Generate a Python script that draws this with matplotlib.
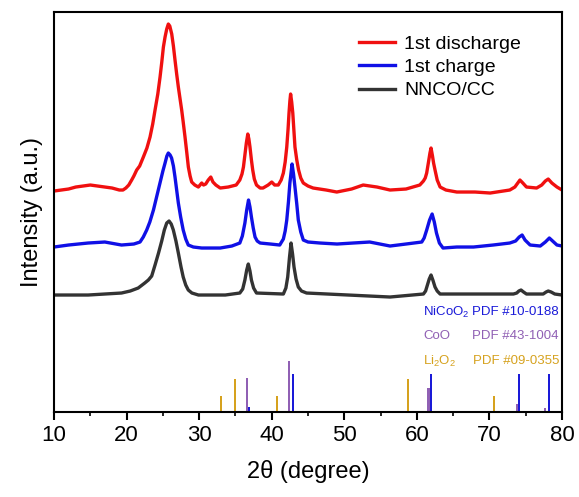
import matplotlib
matplotlib.use("Agg")
import matplotlib.pyplot as plt
from matplotlib.ticker import MultipleLocator

plt.rcParams['font.family'] = ['Liberation Sans', 'DejaVu Sans']
plt.rcParams['mathtext.fontset'] = 'custom'
plt.rcParams['mathtext.rm'] = 'Liberation Sans'
plt.rcParams['mathtext.default'] = 'regular'

# XRD patterns (stacked, arbitrary units)
x_dis = [10.0, 11.0, 12.0, 13.0, 14.0, 15.0, 16.0, 17.0, 18.0, 19.0, 19.5, 19.9, 20.3, 20.7, 21.0,
         21.39, 21.8, 22.31, 22.8, 23.23, 23.6, 23.92, 24.3, 24.61, 24.85, 25.07, 25.3, 25.53,
         25.75, 25.95, 26.22, 26.45, 26.67, 26.9, 27.13, 27.35, 27.59, 27.8, 28.05, 28.3, 28.51,
         28.75, 28.97, 29.4, 29.89, 30.35, 30.6, 30.9, 31.25, 31.6, 31.9, 32.3, 32.9, 34.0, 35.1,
         35.6, 35.9, 36.1, 36.3, 36.5, 36.7, 36.85, 37.0, 37.2, 37.38, 37.6, 37.9, 38.4, 38.8,
         39.5, 40.0, 40.4, 40.9, 41.3, 41.6, 41.85, 42.07, 42.25, 42.38, 42.5, 42.6, 42.75, 42.9,
         43.05, 43.2, 43.45, 43.7, 44.0, 44.35, 45.0, 45.7, 47.5, 48.96, 51.0, 52.6, 54.5, 56.3,
         58.5, 60.4, 60.9, 61.15, 61.35, 61.6, 61.8, 61.95, 62.15, 62.3, 62.5, 62.8, 63.2, 64.0,
         65.5, 68.0, 70.1, 72.8, 73.5, 73.9, 74.2, 74.6, 75.1, 76.5, 77.2, 77.7, 78.1, 78.6,
         79.3, 80.0]
y_dis = [221, 222, 223, 225, 226, 227, 226, 225, 224, 222, 222, 224, 227, 232, 236,
         242, 246, 255, 264, 275, 288, 302, 318, 335, 350, 365, 375, 383,
         388, 386, 378, 366, 352, 338, 325, 314, 302, 290, 275, 259, 245,
         236, 230, 227, 225, 229, 227, 228, 232, 235, 230, 227, 224, 225, 227,
         232, 238, 245, 257, 269, 278, 273, 265, 252, 242, 233, 227, 224, 224,
         227, 230, 227, 227, 232, 239, 250, 265, 283, 299, 311, 318, 310, 299,
         282, 265, 252, 242, 234, 229, 226, 224, 222, 220, 223, 227, 225, 222,
         223, 227, 231, 234, 239, 250, 259, 264, 256, 249, 242, 232, 225, 222,
         220, 220, 219, 222, 225, 229, 232, 229, 225, 224, 227, 231, 233, 229,
         225, 222]

x_chg = [10.0, 12.0, 14.7, 17.0, 19.3, 21.0, 21.85, 22.3, 22.77, 23.2, 23.7, 24.1, 24.6, 25.0, 25.3,
         25.55, 25.75, 26.0, 26.2, 26.45, 26.67, 26.9, 27.13, 27.45, 27.8, 28.15, 28.5, 29.2,
         30.35, 32.9, 34.5, 35.6, 35.95, 36.3, 36.55, 36.8, 37.0, 37.2, 37.45, 37.7, 38.0, 38.4,
         39.8, 41.1, 41.6, 41.85, 42.07, 42.3, 42.5, 42.8, 43.0, 43.2, 43.45, 43.66, 44.0, 44.35,
         45.0, 46.65, 49.0, 51.2, 53.5, 56.3, 58.5, 60.67, 61.0, 61.35, 61.75, 62.1, 62.4, 62.7,
         63.1, 63.6, 65.5, 67.8, 70.5, 72.8, 73.6, 74.1, 74.5, 74.9, 75.6, 77.0, 77.7, 78.25,
         78.7, 79.3, 80.0]
y_chg = [165, 167, 169, 170, 167, 168, 170, 175, 182, 190, 202, 214, 229, 241, 249,
         256, 259, 257, 254, 246, 235, 222, 209, 195, 182, 173, 167, 165,
         164, 164, 166, 169, 176, 189, 202, 212, 205, 195, 184, 175, 171, 169,
         168, 167, 173, 181, 192, 210, 229, 248, 238, 225, 208, 192, 180, 172,
         170, 169, 168, 169, 170, 166, 168, 170, 174, 182, 192, 198, 190, 179,
         169, 164, 165, 165, 167, 169, 171, 175, 177, 172, 167, 166, 170, 174,
         171, 167, 166]

x_cc = [10.0, 14.7, 19.3, 20.5, 21.6, 22.5, 23.0, 23.46, 23.92, 24.4, 24.84, 25.2, 25.53, 25.85,
        26.15, 26.44, 26.8, 27.13, 27.5, 27.8, 28.15, 28.5, 29.0, 29.9, 33.6, 35.6, 36.0, 36.3,
        36.55, 36.77, 37.0, 37.2, 37.5, 37.9, 41.6, 41.95, 42.2, 42.45, 42.66, 42.87, 43.07,
        43.35, 43.66, 44.1, 44.8, 56.3, 60.9, 61.2, 61.45, 61.7, 61.95, 62.2, 62.5, 62.8, 63.2,
        73.3, 73.76, 74.05, 74.35, 74.7, 75.1, 77.4, 77.8, 78.1, 78.5, 79.0, 80.0]
y_cc = [117, 117, 119, 121, 124, 129, 132, 136, 147, 159, 171, 182, 189, 191,
        188, 182, 171, 159, 145, 135, 127, 122, 119, 117, 117, 119, 123, 132,
        142, 148, 141, 132, 124, 119, 118, 124, 135, 155, 169, 158, 145,
        133, 125, 121, 119, 115, 118, 121, 127, 133, 137, 132, 125, 121, 118,
        118, 119, 121, 122, 120, 118, 118, 120, 121, 120, 118, 117]

# standard reference lines
nicoo2_pos = [36.9, 42.9, 61.9, 74.1, 78.2]
nicoo2_int = [5, 38, 38, 38, 38]
coo_pos = [36.6, 42.4, 61.6, 73.8, 77.7]
coo_int = [34, 51, 24, 8, 4]
li2o2_pos = [33.0, 35.0, 40.7, 58.8, 70.6]
li2o2_int = [16, 33, 16, 33, 16]

c_red = '#f01010'
c_blue = '#1010e6'
c_black = '#333333'
c_nicoo2 = '#1a1ad8'
c_coo = '#9060b4'
c_li2o2 = '#d6a21e'

fig = plt.figure(figsize=(5.79, 4.97), dpi=100)
ax = fig.add_axes([0.0933, 0.171, 0.8774, 0.8048])

ax.plot(x_dis, y_dis, color=c_red, lw=2.4, label='1st discharge')
ax.plot(x_chg, y_chg, color=c_blue, lw=2.4, label='1st charge')
ax.plot(x_cc, y_cc, color=c_black, lw=2.4, label='NNCO/CC')

ax.bar(li2o2_pos, li2o2_int, width=0.28, color=c_li2o2)
ax.bar(coo_pos, coo_int, width=0.28, color=c_coo)
ax.bar(nicoo2_pos, nicoo2_int, width=0.28, color=c_nicoo2)

fs = 9.5
ax.text(60.85, 100, 'NiCoO$_2$', color=c_nicoo2, fontsize=fs, va='center')
ax.text(67.6, 100, 'PDF #10-0188', color=c_nicoo2, fontsize=fs, va='center')
ax.text(60.85, 76, 'CoO', color=c_coo, fontsize=fs, va='center')
ax.text(67.6, 76, 'PDF #43-1004', color=c_coo, fontsize=fs, va='center')
ax.text(60.85, 51, 'Li$_2$O$_2$', color=c_li2o2, fontsize=fs, va='center')
ax.text(67.7, 51, 'PDF #09-0355', color=c_li2o2, fontsize=fs, va='center')

ax.set_xlim(10, 80)
ax.set_ylim(0, 400)
ax.xaxis.set_major_locator(MultipleLocator(10))
ax.xaxis.set_minor_locator(MultipleLocator(5))
ax.tick_params(axis='x', which='major', direction='out', length=6, width=1.5, labelsize=16)
ax.tick_params(axis='x', which='minor', direction='out', length=3, width=1.2)
ax.set_yticks([])
for sp in ax.spines.values():
    sp.set_linewidth(1.5)

ax.set_xlabel('2θ (degree)', fontsize=17, labelpad=10)
ax.set_ylabel('Intensity (a.u.)', fontsize=17, labelpad=8)

ax.legend(loc='upper left', bbox_to_anchor=(0.573, 0.975), frameon=False, fontsize=14,
          handlelength=1.85, handletextpad=0.5, labelspacing=0.28, borderpad=0.2)

plt.savefig('out.png', dpi=100)
